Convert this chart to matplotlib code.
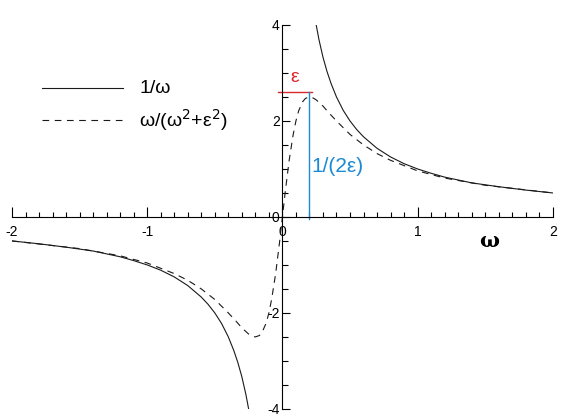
import matplotlib
matplotlib.use("Agg")
import matplotlib.pyplot as plt
from matplotlib.ticker import MultipleLocator

plt.rcParams['font.family'] = ['Liberation Sans', 'DejaVu Sans']

# 1/omega
inv_pos_x = [0.25, 0.27, 0.30, 0.33, 0.36, 0.40, 0.45, 0.50, 0.55, 0.60, 0.70, 0.80, 0.90, 1.00, 1.10, 1.20, 1.40, 1.60, 1.80, 2.00]
inv_pos_y = [4.00, 3.70, 3.33, 3.03, 2.78, 2.50, 2.22, 2.00, 1.82, 1.67, 1.43, 1.25, 1.11, 1.00, 0.91, 0.83, 0.71, 0.63, 0.56, 0.50]
inv_neg_x = [-2.00, -1.80, -1.60, -1.40, -1.20, -1.10, -1.00, -0.90, -0.80, -0.70, -0.60, -0.55, -0.50, -0.45, -0.40, -0.36, -0.33, -0.30, -0.27, -0.25]
inv_neg_y = [-0.50, -0.56, -0.63, -0.71, -0.83, -0.91, -1.00, -1.11, -1.25, -1.43, -1.67, -1.82, -2.00, -2.22, -2.50, -2.78, -3.03, -3.33, -3.70, -4.00]

# omega/(omega^2+eps^2)
lor_x = [-2.00, -1.50, -1.20, -1.00, -0.80, -0.70, -0.60, -0.50, -0.40, -0.35, -0.30, -0.25, -0.22, -0.20, -0.17, -0.15, -0.12, -0.10, -0.08, -0.05, -0.02, 0.00,
         0.02, 0.05, 0.08, 0.10, 0.12, 0.15, 0.17, 0.20, 0.22, 0.25, 0.30, 0.35, 0.40, 0.50, 0.60, 0.70, 0.80, 1.00, 1.20, 1.50, 2.00]
lor_y = [-0.50, -0.66, -0.81, -0.96, -1.18, -1.32, -1.50, -1.72, -2.00, -2.15, -2.31, -2.44, -2.49, -2.50, -2.47, -2.40, -2.21, -2.00, -1.72, -1.18, -0.50, 0.00,
         0.50, 1.18, 1.72, 2.00, 2.21, 2.40, 2.47, 2.50, 2.49, 2.44, 2.31, 2.15, 2.00, 1.72, 1.50, 1.32, 1.18, 0.96, 0.81, 0.66, 0.50]

eps = 0.2
marker_height = 2.6
x_ticks = [-2, -1, 0, 1, 2]
y_ticks = [-4, -2, 0, 2, 4]

fig = plt.figure(figsize=(5.74, 4.16), dpi=100)
ax = fig.add_axes([0.021, 0.017, 0.942, 0.923])
ax.set_xlim(-2, 2)
ax.set_ylim(-4, 4)

dash = (0, (6, 5))
ax.plot(inv_pos_x, inv_pos_y, color='#1a1a1a', lw=0.8)
ax.plot(inv_neg_x, inv_neg_y, color='#1a1a1a', lw=0.8)
ax.plot(lor_x, lor_y, color='#1a1a1a', lw=0.8, ls=dash)

red = '#d8282c'
blue = '#1a8ad4'
ax.plot([-0.03, eps + 0.02], [marker_height, marker_height], color=red, lw=1.0)
ax.plot([eps, eps], [-0.05, marker_height], color=blue, lw=1.0)
ax.text(0.09, 2.72, 'ε', color=red, fontsize=14, ha='center', va='bottom')
ax.text(0.215, 1.05, '1/(2ε)', color=blue, fontsize=15, ha='left', va='center')

# legend drawn by hand
ax.plot([-1.78, -1.18], [2.68, 2.68], color='#1a1a1a', lw=0.8)
ax.text(-1.06, 2.68, '1/ω', fontsize=14, va='center', ha='left')
ax.plot([-1.78, -1.18], [2.02, 2.02], color='#1a1a1a', lw=0.8, ls=dash)
ax.text(-1.06, 2.02, 'ω/(ω$^2$+ε$^2$)', fontsize=14, va='center', ha='left')

ax.text(1.53, -0.5, 'ω', fontsize=15, family='DejaVu Serif', weight='bold', ha='center', va='center')

for s in ['top', 'right']:
    ax.spines[s].set_visible(False)
ax.spines['left'].set_position(('data', 0))
ax.spines['bottom'].set_position(('data', 0))
for s in ['left', 'bottom']:
    ax.spines[s].set_linewidth(0.8)

ax.set_xticks(x_ticks)
ax.set_yticks(y_ticks)
ax.xaxis.set_minor_locator(MultipleLocator(0.1))
ax.yaxis.set_minor_locator(MultipleLocator(0.5))
ax.tick_params(axis='x', which='major', direction='in', length=7, width=0.8, labelsize=10, pad=6)
ax.tick_params(axis='x', which='minor', direction='in', length=3.5, width=0.8)
ax.tick_params(axis='y', which='major', direction='in', length=6, width=0.8, labelsize=10, pad=2)
ax.tick_params(axis='y', which='minor', direction='in', length=4, width=0.8)
ax.set_xticklabels([str(v) for v in x_ticks])
ax.set_yticklabels([str(v) for v in y_ticks])

fig.savefig('out.png', dpi=100)
